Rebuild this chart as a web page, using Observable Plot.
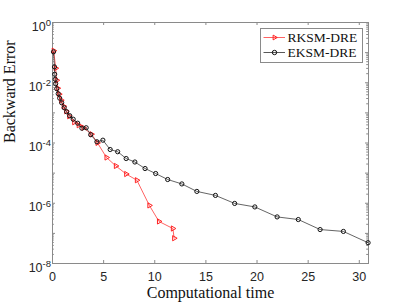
<!DOCTYPE html>
<html><head><meta charset="utf-8">
<script src="https://cdn.jsdelivr.net/npm/d3@7"></script>
<script src="https://cdn.jsdelivr.net/npm/@observablehq/plot@0.6"></script>
<style>
html,body{margin:0;padding:0;background:#fff;}
#chart svg{display:block;}
</style></head><body><div id="chart"></div>
<script>
const seriesNames = ["RKSM-DRE", "EKSM-DRE"];
const rksmTime = [0.117, 0.313, 0.41, 0.508, 0.655, 0.85, 1.095, 1.339, 1.632, 2.121, 2.561, 3.03, 3.812, 4.399, 5.279, 6.197, 7.204, 8.25, 9.472, 10.411, 11.769, 11.896];
const rksmError = [0.116, 0.0304, 0.0121, 0.00659, 0.00417, 0.00263, 0.00166, 0.00113, 7.74e-4, 4.9e-4, 3.89e-4, 3.21e-4, 1.96e-4, 1.01e-4, 3.3e-5, 1.73e-5, 9.33e-6, 5.81e-6, 8.47e-7, 2.49e-7, 1.45e-7, 6.9e-8];
const eksmTime = [0.098, 0.196, 0.215, 0.264, 0.313, 0.41, 0.557, 0.704, 0.899, 1.144, 1.388, 1.681, 2.023, 2.463, 2.874, 3.294, 3.734, 4.34, 4.927, 5.64, 6.373, 7.204, 8.055, 9.052, 10.088, 11.261, 12.649, 14.115, 15.934, 17.81, 19.785, 21.965, 24.037, 26.168, 28.446, 30.86];
const eksmError = [0.106, 0.0336, 0.0192, 0.0131, 0.0093, 0.00634, 0.00433, 0.00307, 0.00217, 0.00148, 0.00109, 8.05e-4, 6.16e-4, 4.54e-4, 3.1e-4, 3.21e-4, 1.88e-4, 1.1e-4, 1.24e-4, 6.08e-5, 5.13e-5, 3.05e-5, 2.34e-5, 1.42e-5, 9.7e-6, 6.14e-6, 4.38e-6, 2.47e-6, 1.82e-6, 9.86e-7, 7.55e-7, 3.52e-7, 2.88e-7, 1.34e-7, 1.16e-7, 4.89e-8];
const xTicks = [0, 5, 10, 15, 20, 25, 30];
const yTicks = [1, 1e-2, 1e-4, 1e-6, 1e-8];
const yTickLabels = ["10^0", "10^-2", "10^-4", "10^-6", "10^-8"];
const xLabel = "Computational time";
const yLabel = "Backward Error";

const rksm = rksmTime.map((t, i) => ({t, e: rksmError[i]}));
const eksm = eksmTime.map((t, i) => ({t, e: eksmError[i]}));

// axis tick positions (decades and log subdivisions)
const majorY = [];
const minorY = [];
for (let k = -8; k <= 0; k++) {
  majorY.push(Math.pow(10, k));
  if (k < 0) for (let m = 2; m <= 9; m++) minorY.push(m * Math.pow(10, k));
}

const W = 407, H = 305, ML = 52, MR = 39, MT = 22, MB = 42;
const FW = W - ML - MR, FH = H - MT - MB;
const axisColor = "#8a8a8a";

const triRight = {
  draw(ctx, size) {
    const r = Math.sqrt(size / Math.PI) * 1.25;
    ctx.moveTo(r, 0);
    ctx.lineTo(-r * 0.5, -r * 0.866);
    ctx.lineTo(-r * 0.5, r * 0.866);
    ctx.closePath();
  }
};

const svg = Plot.plot({
  width: W, height: H,
  marginLeft: ML, marginRight: MR, marginTop: MT, marginBottom: MB,
  x: {domain: [0, 30.9]},
  y: {type: "log", domain: [1e-8, 1]},
  style: {fontFamily: "'Liberation Sans', Arial, sans-serif", fontSize: "12.5px", color: "#262626", background: "white"},
  marks: [
    Plot.frame({stroke: axisColor, strokeWidth: 1}),
    Plot.tickX(xTicks, {x: d => d, insetTop: FH - 3, stroke: axisColor}),
    Plot.tickX(xTicks, {x: d => d, insetBottom: FH - 3, stroke: axisColor}),
    Plot.tickY(majorY, {y: d => d, insetRight: FW - 3, stroke: axisColor}),
    Plot.tickY(majorY, {y: d => d, insetLeft: FW - 3, stroke: axisColor}),
    Plot.tickY(minorY, {y: d => d, insetRight: FW - 1.8, stroke: axisColor}),
    Plot.tickY(minorY, {y: d => d, insetLeft: FW - 1.8, stroke: axisColor}),
    Plot.axisX(xTicks, {tickSize: 0, tickPadding: 9, label: null, fill: "#262626"}),
    Plot.axisY(yTicks, {tickSize: 0, tickPadding: 1.5, label: null, fill: "#262626",
      tickFormat: d => yTickLabels[yTicks.indexOf(d)]}),
    Plot.text([xLabel], {frameAnchor: "bottom", dy: 34, text: d => d,
      fontFamily: "'Liberation Serif', 'Times New Roman', serif", fontSize: 16, fill: "#111", ariaLabel: "xlabel"}),
    Plot.text([yLabel], {frameAnchor: "left", dx: -43, rotate: -90, text: d => d,
      fontFamily: "'Liberation Serif', 'Times New Roman', serif", fontSize: 16, fill: "#111", ariaLabel: "ylabel"}),
    Plot.line(rksm, {x: "t", y: "e", stroke: "#ff2020", strokeWidth: 0.7}),
    Plot.dot(rksm, {x: "t", y: "e", symbol: triRight, r: 2.4, stroke: "#ff2020", strokeWidth: 1, fill: "none"}),
    Plot.line(eksm, {x: "t", y: "e", stroke: "#222", strokeWidth: 0.7}),
    Plot.dot(eksm, {x: "t", y: "e", r: 2.1, stroke: "#111", strokeWidth: 1, fill: "none"})
  ]
});

const s = d3.select(svg);
s.selectAll('g[aria-label="xlabel"] text, g[aria-label="ylabel"] text').style("letter-spacing", "0.7px");
s.selectAll('g[aria-label="y-axis tick label"] text').each(function() {
  const t = d3.select(this);
  const str = t.text();
  const [b, e] = str.split("^");
  t.text(null);
  t.append("tspan").attr("dy", 4).text(b);
  t.append("tspan").attr("dy", -4.6).attr("font-size", "9.5px").text(e);
});

// legend
const lg = s.append("g").attr("font-family", "'Liberation Serif', 'Times New Roman', serif")
  .attr("font-size", "13.5px").attr("text-anchor", "start");
lg.append("rect").attr("x", 260.5).attr("y", 28.5).attr("width", 102).attr("height", 34)
  .attr("fill", "white").attr("stroke", axisColor);
const entries = [
  {name: seriesNames[0], color: "#ff2020", sym: triRight, y: 37.5},
  {name: seriesNames[1], color: "#111", sym: d3.symbolCircle, y: 52.5}
];
entries.forEach(en => {
  lg.append("line").attr("x1", 263.5).attr("x2", 285).attr("y1", en.y).attr("y2", en.y)
    .attr("stroke", en.color).attr("stroke-width", 0.7);
  lg.append("path").attr("d", d3.symbol(en.sym, Math.PI * 2.2 * 2.2)()).attr("transform", `translate(274.5,${en.y})`)
    .attr("fill", "none").attr("stroke", en.color).attr("stroke-width", 1);
  lg.append("text").attr("x", 287.5).attr("y", en.y).attr("dy", "0.35em").attr("text-anchor", "start")
    .attr("fill", "#111").text(en.name);
});

document.getElementById("chart").appendChild(svg);
</script>
</body></html>
